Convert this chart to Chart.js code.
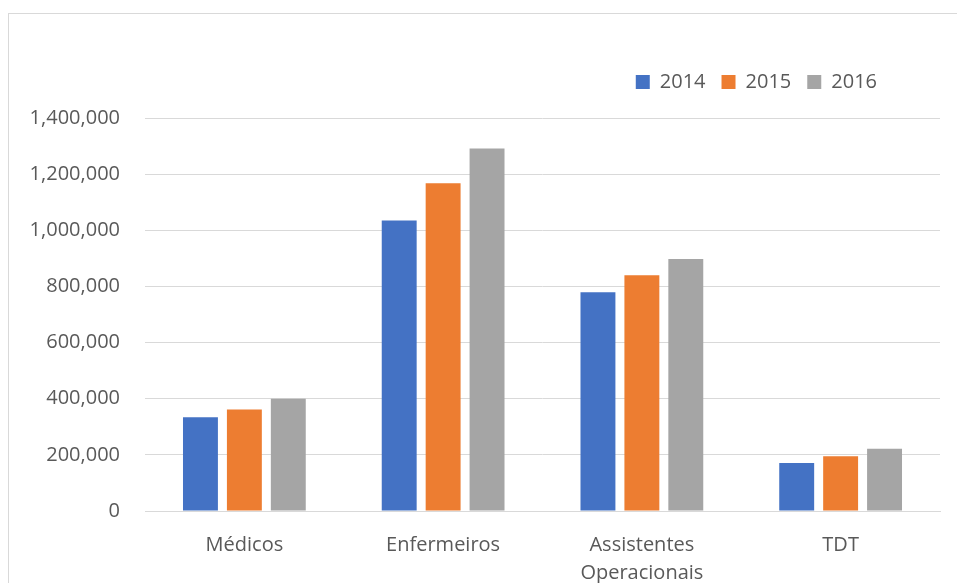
<!DOCTYPE html>
<html lang="pt">
<head>
  <meta charset="UTF-8">
  <title>Profissionais 2014-2016</title>
  <script src="https://cdn.jsdelivr.net/npm/chart.js"></script>
  <style>
    html, body { margin: 0; padding: 0; background: #ffffff; overflow: hidden; }
    .frame {
      position: absolute; left: 8px; top: 13px; right: 0; bottom: 0;
      border-top: 1px solid #d9d9d9; border-left: 1px solid #d9d9d9;
    }
    #grafico { position: absolute; left: 0; top: 0; }
  </style>
</head>
<body>
  <div class="frame"></div>
  <canvas id="grafico" width="957" height="583"></canvas>

  <script>
    const categorias = ['Médicos', 'Enfermeiros', ['Assistentes', 'Operacionais'], 'TDT'];
    const anos = ['2014', '2015', '2016'];
    const valores2014 = [334000, 1035000, 779000, 171000];
    const valores2015 = [362000, 1168000, 840000, 195000];
    const valores2016 = [400000, 1291000, 898000, 222000];
    const cores = ['#4472C4', '#ED7D31', '#A5A5A5'];

    const texto = '#595959';
    const grelha = '#d9d9d9';

    // ajusta a legenda: mais altura por baixo e encostada a direita como no Excel
    const ajusteLegenda = {
      id: 'ajusteLegenda',
      beforeLayout(chart) {
        const lg = chart.legend;
        if (lg && !lg._ajustada) {
          const fitOriginal = lg.fit.bind(lg);
          lg.fit = function () { fitOriginal(); this.height += 16; };
          lg._ajustada = true;
        }
      },
      afterLayout(chart) {
        if (chart.legend) chart.legend.right = 893;
      }
    };

    const ctx = document.getElementById('grafico').getContext('2d');
    new Chart(ctx, {
      type: 'bar',
      data: {
        labels: categorias,
        datasets: [valores2014, valores2015, valores2016].map((v, i) => ({
          label: anos[i],
          data: v,
          backgroundColor: cores[i],
          categoryPercentage: 0.663,
          barPercentage: 0.795
        }))
      },
      options: {
        responsive: false,
        animation: false,
        layout: { padding: { top: 56, right: 17, left: 0, bottom: 0 } },
        plugins: {
          legend: {
            position: 'top',
            align: 'end',
            labels: {
              color: texto,
              boxWidth: 14,
              boxHeight: 14,
              padding: 16,
              font: { family: 'Open Sans', size: 20 }
            }
          },
          tooltip: { enabled: false }
        },
        scales: {
          x: {
            grid: { display: false },
            border: { color: grelha, width: 1 },
            ticks: {
              color: texto,
              padding: 12,
              maxRotation: 0,
              font: { family: 'Open Sans', size: 20, lineHeight: 1.4 }
            },
            afterFit(scale) { scale.height = 72; }
          },
          y: {
            min: 0,
            max: 1400000,
            grid: { color: grelha, lineWidth: 1, drawTicks: false },
            border: { display: false },
            ticks: {
              stepSize: 200000,
              color: texto,
              padding: 25,
              font: { family: 'Open Sans', size: 20 },
              callback: v => v.toLocaleString('en-US')
            },
            afterFit(scale) { scale.width = 145; }
          }
        }
      },
      plugins: [ajusteLegenda]
    });
  </script>
</body>
</html>
